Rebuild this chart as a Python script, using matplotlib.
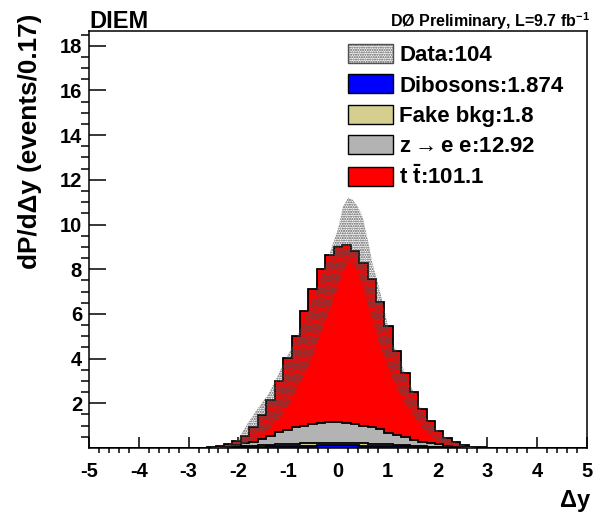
import numpy as np
import matplotlib
matplotlib.use("Agg")
import matplotlib.pyplot as plt
from matplotlib.patches import Patch

plt.rcParams['font.family'] = ['Liberation Sans', 'DejaVu Sans']
plt.rcParams['font.weight'] = 'bold'
plt.rcParams['axes.unicode_minus'] = False
plt.rcParams['mathtext.fontset'] = 'custom'
plt.rcParams['mathtext.rm'] = 'Liberation Sans:bold'
plt.rcParams['mathtext.it'] = 'Liberation Sans:bold'
plt.rcParams['mathtext.bf'] = 'Liberation Sans:bold'
plt.rcParams['hatch.linewidth'] = 1.0

# 59 bins between -5 and 5 (width ~0.17)
edges = np.linspace(-5, 5, 60)

# stacked MC, per bin
dibosons = [0] * 17 + [0.03, 0.04, 0.05, 0.06, 0.07, 0.08, 0.09, 0.10, 0.11, 0.11,
                       0.12, 0.12, 0.12, 0.12, 0.12, 0.11, 0.11, 0.10, 0.09, 0.08,
                       0.07, 0.06, 0.05, 0.04, 0.03] + [0] * 17
fake_bkg = [0] * 17 + [0.03, 0.04, 0.05, 0.06, 0.07, 0.08, 0.09, 0.10, 0.10, 0.11,
                       0.11, 0.11, 0.11, 0.10, 0.10, 0.10, 0.09, 0.08, 0.07, 0.06,
                       0.05, 0.04, 0.03, 0.02, 0.01] + [0] * 17
zee = [0] * 16 + [0.06, 0.06, 0.13, 0.17, 0.27, 0.40, 0.54, 0.62, 0.73, 0.77,
                  0.85, 0.90, 0.95, 0.94, 0.90, 0.84, 0.79, 0.73, 0.66, 0.53,
                  0.44, 0.36, 0.26, 0.20, 0.15, 0.12, 0.10, 0.06, 0.03] + [0] * 14
ttbar = [0] * 14 + [0.03, 0.07, 0.10, 0.21, 0.34, 0.65, 1.07, 1.61, 2.31, 3.24,
                    4.10, 5.16, 6.03, 6.87, 7.47, 7.81, 7.95, 7.77, 7.29, 6.62,
                    5.71, 4.77, 3.75, 2.89, 2.16, 1.45, 1.00, 0.62, 0.33, 0.19,
                    0.10, 0.06, 0.03] + [0] * 12

# data band (lower / upper edge)
band_x = [-2.6, -2.4, -2.2, -2.0, -1.8, -1.6, -1.4, -1.2, -1.0, -0.8, -0.6, -0.4,
          -0.2, 0.0, 0.1, 0.2, 0.3, 0.4, 0.5, 0.6, 0.7, 0.8, 0.9, 1.0, 1.1, 1.2,
          1.3, 1.4, 1.5, 1.6, 1.8, 2.0, 2.2, 2.4, 2.6, 2.8]
band_up = [0.0, 0.05, 0.15, 0.4, 1.15, 1.8, 2.4, 3.3, 4.2, 5.1, 6.1, 7.3,
           8.5, 9.8, 10.8, 11.2, 11.1, 10.8, 10.3, 9.3, 8.2, 7.4, 6.5, 5.5, 4.6, 4.3,
           3.6, 3.1, 2.6, 2.0, 1.25, 0.8, 0.4, 0.2, 0.07, 0.0]
band_lo = [0.0, 0.0, 0.02, 0.08, 0.25, 0.5, 0.8, 1.25, 1.9, 2.8, 3.6, 4.8,
           6.0, 7.2, 7.9, 8.3, 8.3, 7.9, 7.2, 6.4, 5.7, 4.9, 4.2, 3.7, 3.1, 2.6,
           2.2, 1.8, 1.5, 1.2, 0.65, 0.3, 0.12, 0.04, 0.0, 0.0]

labels = ["Data:104", "Dibosons:1.874", "Fake bkg:1.8", "z$\\rightarrow$e e:12.92",
          r"t $\bar{\mathrm{t}}$:101.1"]
colors = {"dib": "#0000ff", "fake": "#d4cf8e", "zee": "#b3b3b3", "tt": "#ff0000"}

fig = plt.figure(figsize=(6.07, 5.17), dpi=100)
ax = fig.add_axes([0.1466, 0.1335, 0.8204, 0.8065])

c_dib = np.array(dibosons)
c_fake = c_dib + np.array(fake_bkg)
c_zee = c_fake + np.array(zee)
c_tt = c_zee + np.array(ttbar)

for vals, col in [(c_tt, colors["tt"]), (c_zee, colors["zee"]),
                  (c_fake, colors["fake"]), (c_dib, colors["dib"])]:
    ax.stairs(vals, edges, baseline=0, fill=True, color=col, zorder=2)
    ax.stairs(vals, edges, baseline=0, fill=False, color="black", lw=1.3, zorder=3)

ax.fill_between(band_x, band_lo, band_up, facecolor="none", edgecolor="#505050",
                hatch=".......", linewidth=0, zorder=4)

ax.set_xlim(-5, 5)
ax.set_ylim(0, 18.66)
ax.set_xticks(np.arange(-5, 6, 1))
ax.set_xticks(np.arange(-5, 5.01, 0.2), minor=True)
ax.set_yticks(np.arange(2, 19, 2))
ax.set_yticks(np.arange(0.5, 18.6, 0.5), minor=True)
ax.tick_params(direction="in", labelsize=14.5, width=1.1)
ax.tick_params(axis="x", which="major", length=8, pad=10)
ax.tick_params(axis="x", which="minor", length=3.3, width=1.1)
ax.tick_params(axis="y", which="major", length=12, pad=5)
ax.tick_params(axis="y", which="minor", length=6, width=1.1)
for lab in ax.get_xticklabels() + ax.get_yticklabels():
    lab.set_fontweight("bold")
for s in ax.spines.values():
    s.set_linewidth(1.1)

fig.text(30 / 607, 1 - 14 / 517, "dP/d\u0394y (events/0.17)", rotation=90,
         ha="center", va="top", fontsize=18.8, fontweight="bold")
fig.text(590 / 607, 1 - 500 / 517, "\u0394y", ha="right", va="center",
         fontsize=17, fontweight="bold")
fig.text(89 / 607, 1 - 28 / 517, "DIEM", ha="left", va="baseline",
         fontsize=17, fontweight="bold")
fig.text(590 / 607, 1 - 27 / 517, "D\u00d8 Preliminary, L=9.7 fb$^{-1}$",
         ha="right", va="baseline", fontsize=11.5, fontweight="bold")

handles = [Patch(facecolor="white", edgecolor="#505050", hatch="......."),
           Patch(facecolor=colors["dib"], edgecolor="black"),
           Patch(facecolor=colors["fake"], edgecolor="black"),
           Patch(facecolor=colors["zee"], edgecolor="black"),
           Patch(facecolor=colors["tt"], edgecolor="black")]
leg = ax.legend(handles, labels, loc="upper left", bbox_to_anchor=(0.503, 0.99),
                frameon=False, fontsize=16, handlelength=2.0, handleheight=0.95,
                handletextpad=0.3, labelspacing=0.36, borderaxespad=0)
for t in leg.get_texts():
    t.set_fontweight("bold")

fig.savefig("out.png", dpi=100)
